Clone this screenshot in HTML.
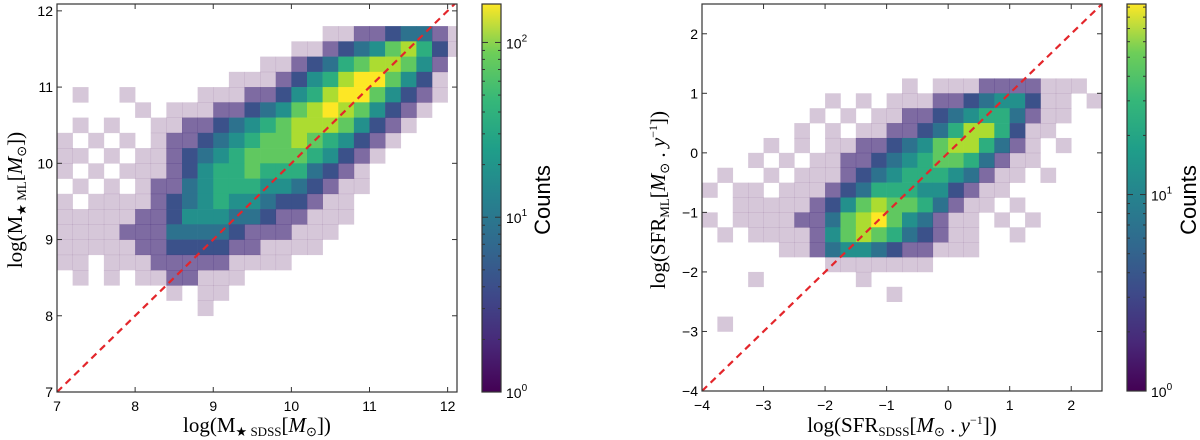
<!DOCTYPE html>
<html><head><meta charset="utf-8"><style>
body{margin:0;background:#fff}
svg{display:block}
.tk{font-family:"Liberation Sans",sans-serif;font-size:14px;fill:#000}
.ttl{font-family:"Liberation Serif",serif;font-size:21px;fill:#000}
.cnt{font-family:"Liberation Sans",sans-serif;font-size:22px;fill:#000}
</style></head><body>
<svg id="s" width="1200" height="440" viewBox="0 0 1200 440" xmlns="http://www.w3.org/2000/svg">
<defs>
<linearGradient id="vg" x1="0" y1="1" x2="0" y2="0">
<stop offset="0" stop-color="#440154"/><stop offset="0.125" stop-color="#482878"/><stop offset="0.25" stop-color="#3e4989"/><stop offset="0.375" stop-color="#31688e"/><stop offset="0.5" stop-color="#26828e"/><stop offset="0.625" stop-color="#1f9e89"/><stop offset="0.75" stop-color="#35b779"/><stop offset="0.875" stop-color="#6ece58"/><stop offset="1" stop-color="#fde725"/>
</linearGradient>
</defs>
<g id="L"></g>
<g id="R"></g>
<text class="ttl" x="257" y="432" text-anchor="middle">log(M<tspan font-size="13" dy="4">★ SDSS</tspan><tspan dy="-4">[</tspan><tspan font-style="italic">M</tspan><tspan font-size="13" dy="4">⊙</tspan><tspan dy="-4">])</tspan></text>
<text class="ttl" transform="translate(22,200) rotate(-90)" text-anchor="middle">log(M<tspan font-size="13" dy="4">★ ML</tspan><tspan dy="-4">[</tspan><tspan font-style="italic">M</tspan><tspan font-size="13" dy="4">⊙</tspan><tspan dy="-4">])</tspan></text>
<text class="cnt" transform="translate(550,200) rotate(-90)" text-anchor="middle">Counts</text>
<text class="ttl" x="902" y="432" text-anchor="middle">log(SFR<tspan font-size="13" dy="4">SDSS</tspan><tspan dy="-4">[</tspan><tspan font-style="italic">M</tspan><tspan font-size="13" dy="4">⊙</tspan><tspan dy="-4"> . </tspan><tspan font-style="italic">y</tspan><tspan font-size="12" dy="-8">−1</tspan><tspan dy="8">])</tspan></text>
<text class="ttl" transform="translate(665,200) rotate(-90)" text-anchor="middle">log(SFR<tspan font-size="13" dy="4">ML</tspan><tspan dy="-4">[</tspan><tspan font-style="italic">M</tspan><tspan font-size="13" dy="4">⊙</tspan><tspan dy="-4"> . </tspan><tspan font-style="italic">y</tspan><tspan font-size="12" dy="-8">−1</tspan><tspan dy="8">])</tspan></text>
<text class="cnt" transform="translate(1196,200) rotate(-90)" text-anchor="middle">Counts</text>
</svg>
<script>
// Left panel histogram levels (rows top->bottom, y centers 12.1..7.1 step 0.2; cols x 7.1..12.1)
const massXTicks=[7,8,9,10,11,12];
const massYTicks=[7,8,9,10,11,12];
const massRows=[
"..........................",
"..........................",
".................001123310",
"...............00123467520",
".............001235677641.",
"...........00012457886420.",
".0..0....0001124578864210.",
".....0.00011234678764210..",
".0.0..00112345677764210...",
"0.0.0.0112345667654210....",
"00.0.0012345666654210.....",
"0.0.0001245565553210......",
".0.0.011345554432100......",
"0.00001234544322100.......",
"0000011244433211000.......",
"000011133332111000........",
"00000112222110000.........",
"00.000111110000...........",
".0.0.0011000..............",
".......0.00...............",
".........0................",
"..........................",
"..........................",
"..........................",
"..........................",
".........................."];
// Right panel levels (y centers 2.375..-3.875 step 0.25; x -3.875..2.375)
const sfrXTicks=[-4,-3,-2,-1,0,1,2];
const sfrYTicks=[-4,-3,-2,-1,0,1,2];
const sfrRows=[
"..........................",
"..........................",
"..........................",
"..........................",
"..........................",
".............0.0001111000.",
"........0.0.000112344200.0",
".......0.0.0011234553100..",
"......0.0.0011235775200...",
"....0.0.00112346775310.0..",
"...0.0.001123456653100....",
".0..0.000123455543100.0...",
"0.00.000123555442100......",
"..00000124676653100.0.....",
"0.0000113678643100.0.0....",
".0.000014676532100..0.....",
".....0013443211000........",
"........0000000...........",
"...0......0...............",
"............0.............",
"..........................",
".0........................",
"..........................",
"..........................",
"..........................",
".........................."];
const massCbTicks=[0,1,2]; const massCbMax=2.22;
const sfrCbTicks=[0,1]; const sfrCbMax=1.97;

const NS="http://www.w3.org/2000/svg";
const VIR=["#440154","#482878","#3e4989","#31688e","#26828e","#1f9e89","#35b779","#6ece58","#b5de2b","#fde725"];
function hex(h){return [1,3,5].map(i=>parseInt(h.substr(i,2),16));}
function vir(t){t=Math.max(0,Math.min(1,t));const p=t*(VIR.length-1),i=Math.min(VIR.length-2,Math.floor(p)),f=p-i;const a=hex(VIR[i]),b=hex(VIR[i+1]);return "rgb("+a.map((v,k)=>Math.round(v+(b[k]-v)*f)).join(",")+")";}
function mk(tag,at,par){const e=document.createElementNS(NS,tag);for(const k in at)e.setAttribute(k,at[k]);par.appendChild(e);return e;}

function panel(g,cfg){
 const sx=v=>cfg.x0+(v-cfg.xmin)*(cfg.x1-cfg.x0)/(cfg.xmax-cfg.xmin);
 const sy=v=>cfg.y0-(v-cfg.ymin)*(cfg.y0-cfg.y1)/(cfg.ymax-cfg.ymin);
 const cl=mk("clipPath",{id:cfg.id+"c"},g);mk("rect",{x:cfg.x0,y:cfg.y1,width:cfg.x1-cfg.x0,height:cfg.y0-cfg.y1},cl);
 const hg=mk("g",{"clip-path":"url(#"+cfg.id+"c)"},g);
 
 
 cfg.rows.forEach((row,k)=>{
  const yt=cfg.ytop-cfg.step*k;
  for(let j=0;j<row.length;j++){
   const ch=row[j]; if(ch===".")continue;
   const L=+ch; const xl=cfg.xleft+cfg.step*j;
   const r=mk("rect",{x:sx(xl),y:sy(yt),width:sx(xl+cfg.step)-sx(xl)+0.3,height:sy(yt-cfg.step)-sy(yt)+0.3,fill:L===0?"#440154":vir(L/8.0),"fill-opacity":L===0?0.22:(L===1?0.7:1)},hg);
   
   
  }
 });
 const ln=mk("line",{x1:sx(cfg.xmin),y1:sy(cfg.xmin),x2:sx(cfg.xmax),y2:sy(cfg.xmax),stroke:"#e3262b","stroke-width":2.2,"stroke-dasharray":"7,5"},hg);
 
 
 const fr=mk("rect",{x:cfg.x0,y:cfg.y1,width:cfg.x1-cfg.x0,height:cfg.y0-cfg.y1,fill:"none",stroke:"#333","stroke-width":1.2},g);
 
 
 cfg.xt.forEach(v=>{const x=sx(v);
  mk("line",{x1:x,y1:cfg.y0,x2:x,y2:cfg.y0-5,stroke:"#333"},g);mk("line",{x1:x,y1:cfg.y1,x2:x,y2:cfg.y1+5,stroke:"#333"},g);
  const t=mk("text",{class:"tk",x:x,y:cfg.y0+19,"text-anchor":"middle"},g);t.textContent=String(v).replace("-","−");
  
  });
 cfg.yt.forEach(v=>{const y=sy(v);
  mk("line",{x1:cfg.x0,y1:y,x2:cfg.x0+5,y2:y,stroke:"#333"},g);mk("line",{x1:cfg.x1,y1:y,x2:cfg.x1-5,y2:y,stroke:"#333"},g);
  const t=mk("text",{class:"tk",x:cfg.x0-4,y:y+5,"text-anchor":"end"},g);t.textContent=String(v).replace("-","−");
  
  });
 const cb=mk("rect",{x:cfg.cbx,y:cfg.y1,width:19,height:cfg.y0-cfg.y1,fill:"url(#vg)",stroke:"#333","stroke-width":1.2},g);
 
 
 const cy=d=>cfg.y0-d/cfg.cbmax*(cfg.y0-cfg.y1);
 for(let d=0;d<Math.ceil(cfg.cbmax);d++)for(let m=2;m<10;m++){const dv=d+Math.log10(m);if(dv>cfg.cbmax)break;const y=cy(dv);
  mk("line",{x1:cfg.cbx,y1:y,x2:cfg.cbx+3,y2:y,stroke:"#333"},g);mk("line",{x1:cfg.cbx+19,y1:y,x2:cfg.cbx+16,y2:y,stroke:"#333"},g);}
 cfg.cbt.forEach(d=>{const y=cy(d);
  mk("line",{x1:cfg.cbx,y1:y,x2:cfg.cbx+6,y2:y,stroke:"#333"},g);mk("line",{x1:cfg.cbx+19,y1:y,x2:cfg.cbx+13,y2:y,stroke:"#333"},g);
  const t=mk("text",{class:"tk",x:cfg.cbx+24,y:y+6},g);t.textContent="10";
  const s=mk("tspan",{"font-size":"10",dy:"-7"},t);s.textContent=String(d);
  
  });
}
panel(document.getElementById("L"),{id:"L",x0:57,x1:457,y0:392,y1:4,xmin:7,xmax:12.12,ymin:7,ymax:12.09,rows:massRows,ytop:12.2,xleft:7.0,step:0.2,xt:massXTicks,yt:massYTicks,cbx:482,cbmax:massCbMax,cbt:massCbTicks});
panel(document.getElementById("R"),{id:"R",x0:702,x1:1102,y0:391,y1:4,xmin:-4,xmax:2.5,ymin:-4,ymax:2.5,rows:sfrRows,ytop:2.5,xleft:-4,step:0.25,xt:sfrXTicks,yt:sfrYTicks,cbx:1127,cbmax:sfrCbMax,cbt:sfrCbTicks});
</script>
</body></html>
